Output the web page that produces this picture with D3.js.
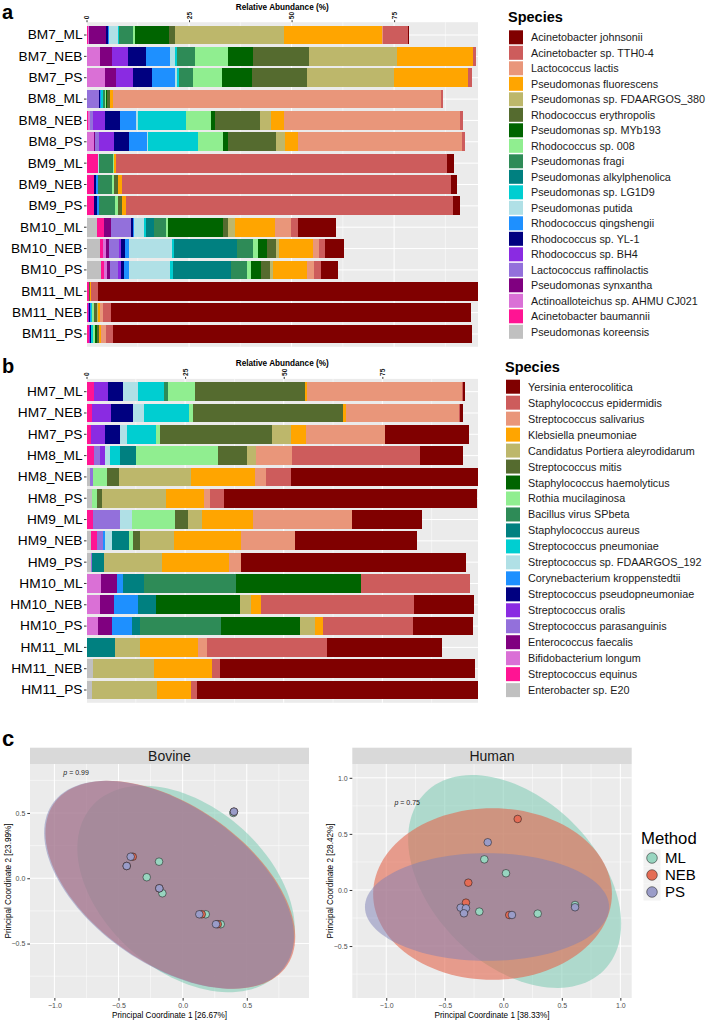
<!DOCTYPE html>
<html>
<head>
<meta charset="utf-8">
<script src="https://cdn.jsdelivr.net/npm/d3@7"></script>
<style>
body { margin: 0; background: #fff; }
text { font-family: "Liberation Sans", Arial, sans-serif; }
</style>
</head>
<body>
<div id="chartbox"></div>
<script>
const width = 708, height = 1020;

// colours shared by both bar panels (legend order)
const palette = ['#800000', '#CD5C5C', '#E9967A', '#FFA500', '#BDB76B', '#556B2F', '#006400',
  '#90EE90', '#2E8B57', '#008080', '#00CED1', '#B0E0E6', '#1E90FF', '#000080', '#8A2BE2',
  '#9370DB', '#800080', '#DA70D6', '#FF1493', '#C0C0C0'];

const bovineSpecies = ['Acinetobacter johnsonii', 'Acinetobacter sp. TTH0-4', 'Lactococcus lactis',
  'Pseudomonas fluorescens', 'Pseudomonas sp. FDAARGOS_380', 'Rhodococcus erythropolis',
  'Pseudomonas sp. MYb193', 'Rhodococcus sp. 008', 'Pseudomonas fragi', 'Pseudomonas alkylphenolica',
  'Pseudomonas sp. LG1D9', 'Pseudomonas putida', 'Rhodococcus qingshengii', 'Rhodococcus sp. YL-1',
  'Rhodococcus sp. BH4', 'Lactococcus raffinolactis', 'Pseudomonas synxantha',
  'Actinoalloteichus sp. AHMU CJ021', 'Acinetobacter baumannii', 'Pseudomonas koreensis'];

const humanSpecies = ['Yersinia enterocolitica', 'Staphylococcus epidermidis', 'Streptococcus salivarius',
  'Klebsiella pneumoniae', 'Candidatus Portiera aleyrodidarum', 'Streptococcus mitis',
  'Staphylococcus haemolyticus', 'Rothia mucilaginosa', 'Bacillus virus SPbeta', 'Staphylococcus aureus',
  'Streptococcus pneumoniae', 'Streptococcus sp. FDAARGOS_192', 'Corynebacterium kroppenstedtii',
  'Streptococcus pseudopneumoniae', 'Streptococcus oralis', 'Streptococcus parasanguinis',
  'Enterococcus faecalis', 'Bifidobacterium longum', 'Streptococcus equinus', 'Enterobacter sp. E20'];

const bovineSamples = ['BM7_ML', 'BM7_NEB', 'BM7_PS', 'BM8_ML', 'BM8_NEB', 'BM8_PS', 'BM9_ML', 'BM9_NEB',
  'BM9_PS', 'BM10_ML', 'BM10_NEB', 'BM10_PS', 'BM11_ML', 'BM11_NEB', 'BM11_PS'];
const humanSamples = ['HM7_ML', 'HM7_NEB', 'HM7_PS', 'HM8_ML', 'HM8_NEB', 'HM8_PS', 'HM9_ML', 'HM9_NEB',
  'HM9_PS', 'HM10_ML', 'HM10_NEB', 'HM10_PS', 'HM11_ML', 'HM11_NEB', 'HM11_PS'];

// relative abundance (%), one value per species in legend order
const BM7_ML   = [0.25, 6.1, 0.4, 23.7, 26.6, 1.45, 8.3, 0.65, 3.25, 0, 0.3, 2.1, 0.35, 0.45, 0, 0, 4.1, 0.4, 0.3, 0];
const BM7_NEB  = [0, 0.75, 0, 18.5, 21.5, 13.6, 6.0, 8.2, 4.3, 0, 0.5, 1.1, 5.85, 4.6, 3.9, 0, 2.9, 3.2, 0, 0];
const BM7_PS   = [0, 0.9, 0, 18.2, 21.0, 13.6, 7.1, 7.3, 3.4, 0, 0.4, 0.5, 5.5, 4.6, 4.15, 0, 2.7, 4.6, 0, 0];
const BM8_ML   = [0, 0.3, 80.0, 0.8, 0, 0.6, 0.3, 0.4, 0.3, 0, 0.5, 0, 0.3, 0.3, 0, 3.0, 0, 0, 0, 0];
const BM8_NEB  = [0, 0.9, 42.8, 3.25, 2.6, 11.0, 0.9, 6.2, 0, 0, 11.8, 0.3, 4.05, 3.6, 2.9, 0.8, 0, 0.5, 0.3, 0];
const BM8_PS   = [0, 0.75, 40.0, 3.0, 2.4, 11.6, 1.1, 6.2, 0, 0, 12.2, 0.3, 4.4, 3.6, 3.65, 1.0, 0.25, 1.8, 0, 0];
const BM9_ML   = [1.6, 80.6, 0, 0.5, 0, 0.2, 0, 0.2, 3.25, 0, 0, 0.3, 0, 0, 0, 0, 0, 0, 2.85, 0];
const BM9_NEB  = [1.6, 80.2, 0, 0.8, 0.2, 0.8, 0, 0.5, 3.6, 0, 0, 0, 0.4, 0.5, 0, 0, 0, 0, 1.8, 0];
const BM9_PS   = [1.6, 79.8, 0, 1.0, 0, 1.0, 0, 0.65, 3.9, 0, 0, 0, 0.55, 0.55, 0, 0, 0, 0, 1.95, 0];
const BM10_ML  = [9.3, 1.8, 3.9, 9.6, 1.8, 1.2, 13.3, 0.5, 3.1, 1.95, 0.3, 2.45, 0.4, 0.4, 0, 4.9, 1.6, 0, 1.9, 2.45];
const BM10_NEB = [4.55, 1.55, 1.3, 8.45, 0.65, 2.3, 2.2, 1.2, 3.9, 15.2, 0.55, 10.55, 1.0, 0.8, 0.65, 2.3, 0.8, 0.65, 0.8, 3.3];
const BM10_PS  = [4.25, 1.6, 1.7, 8.4, 0.65, 2.2, 2.35, 1.15, 3.9, 14.15, 0.65, 10.1, 1.0, 0.8, 0.65, 2.1, 0.8, 0.7, 0.7, 3.5];
const BM11_ML  = [92.7, 1.6, 0, 0.3, 0, 0.3, 0, 0, 0, 0, 0, 0, 0, 0, 0, 0, 0, 0, 0.55, 0];
const BM11_NEB = [87.9, 1.8, 0.9, 0.3, 0.4, 0.6, 0, 0.5, 0, 0, 0.3, 0, 0.2, 0.3, 0.2, 0, 0, 0, 0.4, 0];
const BM11_PS  = [87.7, 1.6, 1.3, 0.3, 0, 0.7, 0.3, 0.5, 0, 0, 0.6, 0, 0, 0.2, 0.3, 0, 0, 0, 0.55, 0];

const HM7_ML   = [0.5, 0.2, 39.3, 0.4, 0, 27.9, 0, 6.8, 1.1, 0, 6.7, 3.8, 0, 3.8, 3.4, 0, 0, 0, 1.95, 0];
const HM7_NEB  = [0.6, 0.25, 28.8, 0.75, 0, 37.9, 0, 1.0, 0, 0, 11.4, 2.95, 0, 5.65, 4.75, 0, 0, 0, 1.35, 0];
const HM7_PS   = [21.2, 0, 19.9, 3.8, 4.9, 28.5, 0, 0.85, 0, 0, 7.35, 1.95, 0, 3.8, 3.4, 0, 0, 0, 1.2, 0];
const HM8_ML   = [10.9, 32.4, 9.15, 0, 2.35, 7.35, 0, 20.7, 0, 4.25, 2.55, 1.2, 0, 0, 1.35, 1.35, 0, 0, 1.95, 0];
const HM8_NEB  = [47.2, 6.5, 2.8, 16.05, 18.35, 3.0, 0, 3.6, 0, 0, 0, 0, 0, 0, 0, 0.7, 0, 0, 0, 0.95];
const HM8_PS   = [64.3, 3.55, 1.5, 9.65, 16.1, 1.25, 0, 1.45, 0, 0, 0, 0, 0, 0, 0, 0, 0, 0, 0, 1.3];
const HM9_ML   = [17.85, 0, 25.1, 13.0, 3.4, 3.45, 0, 10.75, 0, 0, 0, 3.05, 0, 0, 0, 6.95, 0, 0, 1.6, 0];
const HM9_NEB  = [31.0, 0, 13.7, 16.9, 8.7, 1.7, 0, 1.0, 0, 4.25, 0, 1.7, 0.5, 0, 0, 1.6, 0, 0, 1.6, 1.1];
const HM9_PS   = [57.0, 0, 3.0, 17.0, 14.7, 0, 0, 0, 0, 2.9, 0, 0, 0, 0, 0, 0.3, 0, 0, 0, 1.2];
const HM10_ML  = [0, 27.4, 0, 0, 0, 0, 31.9, 0, 23.1, 5.35, 0, 0, 1.5, 0, 0, 0, 4.05, 3.8, 0, 0];
const HM10_NEB = [15.15, 39.0, 0, 2.35, 2.95, 0, 21.15, 0, 0, 4.75, 0, 0, 6.0, 0, 0, 0, 3.65, 3.3, 0, 0];
const HM10_PS  = [15.25, 22.85, 0, 2.05, 3.9, 0, 20.05, 0, 20.4, 2.1, 0, 0, 5.15, 0, 0, 0, 3.45, 2.9, 0, 0];
const HM11_ML  = [29.2, 30.45, 2.3, 14.65, 6.5, 0, 0, 0, 0, 7.1, 0, 0, 0, 0, 0, 0, 0, 0, 0, 0];
const HM11_NEB = [64.6, 2.0, 0, 14.9, 15.4, 0, 0, 0, 0, 0, 0, 0, 0, 0, 0, 0, 0, 0, 0, 1.6];
const HM11_PS  = [71.25, 1.6, 0, 8.45, 16.6, 0, 0, 0, 0, 0, 0, 0, 0, 0, 0, 0, 0, 0, 0, 1.35];

const bovineRows = [BM7_ML, BM7_NEB, BM7_PS, BM8_ML, BM8_NEB, BM8_PS, BM9_ML, BM9_NEB, BM9_PS,
  BM10_ML, BM10_NEB, BM10_PS, BM11_ML, BM11_NEB, BM11_PS];
const humanRows = [HM7_ML, HM7_NEB, HM7_PS, HM8_ML, HM8_NEB, HM8_PS, HM9_ML, HM9_NEB, HM9_PS,
  HM10_ML, HM10_NEB, HM10_PS, HM11_ML, HM11_NEB, HM11_PS];
const abundanceTicks = [0, 25, 50, 75];

// PCoA coordinates [PC1, PC2] per method
const methods = ['ML', 'NEB', 'PS'];
const methodColors = ['#98D5C0', '#E46C55', '#9A9CC8'];
const ellipseColors = ['#7CCBB2', '#E2654D', '#7E7FB5'];
const ellipseOpacity = [0.55, 0.6, 0.5];
const bovineML  = [[0.395, 0.50], [-0.184, 0.127], [-0.280, 0.008], [-0.158, -0.115], [0.180, -0.276], [0.297, -0.352]];
const bovineNEB = [[0.40, 0.51], [-0.389, 0.165], [-0.436, 0.094], [-0.182, -0.077], [0.149, -0.276], [0.274, -0.352]];
const bovinePS  = [[0.40, 0.51], [-0.405, 0.165], [-0.436, 0.094], [-0.182, -0.077], [0.130, -0.276], [0.260, -0.352]];
const humanML   = [[-0.162, 0.273], [0.023, 0.149], [-0.205, -0.193], [0.294, -0.211], [0.613, -0.134]];
const humanNEB  = [[0.123, 0.633], [-0.299, 0.065], [-0.319, -0.113], [-0.336, -0.202], [0.051, -0.223]];
const humanPS   = [[-0.133, 0.425], [-0.364, -0.158], [-0.319, -0.163], [-0.336, -0.208], [0.074, -0.223], [0.613, -0.154]];
// 95% ellipses: centre, semi axes, rotation (deg), in PCoA units
const bovineEllipses = [
  {cx: 0.027, cy: -0.082, a: 0.97, b: 0.635, angle: -40},
  {cx: -0.096, cy: -0.05, a: 1.10, b: 0.61, angle: -34},
  {cx: -0.106, cy: -0.05, a: 1.10, b: 0.61, angle: -34}];
const humanEllipses = [
  {cx: 0.097, cy: 0.076, a: 1.10, b: 0.72, angle: -48},
  {cx: -0.092, cy: -0.036, a: 1.02, b: 0.765, angle: 0},
  {cx: -0.139, cy: -0.152, a: 1.043, b: 0.48, angle: 0}];

var svg = d3.select('#chartbox').append('svg').attr('width', width).attr('height', height);

function drawBars(cfg) {
  var g = svg.append('g');
  var keys = cfg.species.map((s, i) => i);
  var table = cfg.samples.map((name, r) => {
    var o = {sample: name};
    cfg.rows[r].forEach((v, i) => o[i] = v);
    return o;
  });
  var x = d3.scaleLinear().domain([0, d3.max(cfg.rows, r => d3.sum(r))]).range([cfg.left, cfg.right]);
  var y = d3.scaleBand().domain(cfg.samples).range([cfg.top, cfg.bottom]).paddingInner(0.12).paddingOuter(0.16);
  var color = d3.scaleOrdinal().domain(keys).range(palette);

  g.append('rect').attr('x', cfg.left).attr('y', cfg.top).attr('width', cfg.right - cfg.left)
    .attr('height', cfg.bottom - cfg.top).attr('fill', '#EBEBEB');
  // grid
  abundanceTicks.map(t => t + 12.5).filter(t => t < x.domain()[1]).forEach(t => {
    g.append('line').attr('x1', x(t)).attr('x2', x(t)).attr('y1', cfg.top).attr('y2', cfg.bottom)
      .attr('stroke', '#fff').attr('stroke-width', 0.5);
  });
  abundanceTicks.forEach(t => {
    g.append('line').attr('x1', x(t)).attr('x2', x(t)).attr('y1', cfg.top).attr('y2', cfg.bottom)
      .attr('stroke', '#fff').attr('stroke-width', 1);
  });
  cfg.samples.forEach(s => {
    var yc = y(s) + y.bandwidth() / 2;
    g.append('line').attr('x1', cfg.left).attr('x2', cfg.right).attr('y1', yc).attr('y2', yc)
      .attr('stroke', '#fff').attr('stroke-width', 1);
  });

  var series = d3.stack().keys(keys.slice().reverse())(table);
  g.selectAll('g.layer').data(series).join('g').attr('class', 'layer')
    .attr('fill', d => color(d.key))
    .selectAll('rect').data(d => d).join('rect')
    .attr('shape-rendering', 'crispEdges')
    .attr('x', d => x(d[0]))
    .attr('width', d => Math.max(0, x(d[1]) - x(d[0])))
    .attr('y', d => y(d.data.sample))
    .attr('height', y.bandwidth());

  // axes
  var ya = g.append('g').attr('transform', 'translate(' + cfg.left + ',0)').call(d3.axisLeft(y).tickSize(2.5).tickPadding(1.5));
  ya.select('.domain').remove();
  ya.selectAll('line').attr('stroke', '#333');
  ya.selectAll('text').attr('font-size', 13.7).attr('fill', '#000').style('font-family', '"Liberation Sans", Arial, sans-serif');

  var xa = g.append('g').attr('transform', 'translate(0,' + cfg.top + ')').call(d3.axisTop(x).tickValues(abundanceTicks).tickSize(2));
  xa.select('.domain').remove();
  xa.selectAll('line').attr('stroke', '#333');
  xa.selectAll('text').attr('transform', 'rotate(-90)').attr('x', 3).attr('y', 0).attr('dy', '0.35em')
    .attr('text-anchor', 'start').attr('font-size', 6.5).attr('font-weight', 'bold').attr('fill', '#1a1a1a')
    .style('font-family', '"Liberation Sans", Arial, sans-serif');

  g.append('text').attr('x', (cfg.left + cfg.right) / 2).attr('y', cfg.top - 12.5).attr('text-anchor', 'middle')
    .attr('font-size', 8.2).attr('font-weight', 'bold').text('Relative Abundance (%)');
  g.append('text').attr('x', 2).attr('y', cfg.labelY).attr('font-size', 20).attr('font-weight', 'bold').text(cfg.label);

  // legend
  g.append('text').attr('x', cfg.legendX).attr('y', cfg.legendTop - 15).attr('font-size', 14.5)
    .attr('font-weight', 'bold').text('Species');
  cfg.species.forEach((s, i) => {
    var yy = cfg.legendTop + i * cfg.legendStep;
    g.append('rect').attr('x', cfg.legendX + 1).attr('y', yy - 7).attr('width', 14).attr('height', 14).attr('fill', palette[i]);
    g.append('text').attr('x', cfg.legendX + 23).attr('y', yy + 4).attr('font-size', 10.8).attr('fill', '#1a1a1a').text(s);
  });
}

drawBars({species: bovineSpecies, samples: bovineSamples, rows: bovineRows, left: 86.5, right: 478,
  top: 22.2, bottom: 346.8, label: 'a', labelY: 18.5, legendX: 508, legendTop: 37.3, legendStep: 15.5});
drawBars({species: humanSpecies, samples: humanSamples, rows: humanRows, left: 86.5, right: 478,
  top: 378.9, bottom: 702.8, label: 'b', labelY: 373, legendX: 505, legendTop: 386.7, legendStep: 15.97});

function drawPcoa(cfg) {
  var g = svg.append('g');
  var x = d3.scaleLinear().domain(cfg.xDomain).range([cfg.left, cfg.right]);
  var y = d3.scaleLinear().domain(cfg.yDomain).range([cfg.bottom, cfg.top]);
  var clipId = 'clip-' + cfg.title;
  g.append('clipPath').attr('id', clipId).append('rect').attr('x', cfg.left).attr('y', cfg.top)
    .attr('width', cfg.right - cfg.left).attr('height', cfg.bottom - cfg.top);

  // strip
  g.append('rect').attr('x', cfg.left).attr('y', cfg.top - 16.3).attr('width', cfg.right - cfg.left)
    .attr('height', 16.3).attr('fill', '#D9D9D9');
  g.append('text').attr('x', (cfg.left + cfg.right) / 2).attr('y', cfg.top - 3.3).attr('text-anchor', 'middle')
    .attr('font-size', 14).attr('fill', '#1a1a1a').text(cfg.title);

  g.append('rect').attr('x', cfg.left).attr('y', cfg.top).attr('width', cfg.right - cfg.left)
    .attr('height', cfg.bottom - cfg.top).attr('fill', '#EBEBEB');
  var grid = g.append('g');
  cfg.xTicks.slice(1).map((t, i) => (t + cfg.xTicks[i]) / 2).concat([cfg.xTicks[cfg.xTicks.length - 1] + 0.25, cfg.xTicks[0] - 0.25])
    .filter(t => t > cfg.xDomain[0] && t < cfg.xDomain[1]).forEach(t => {
      grid.append('line').attr('x1', x(t)).attr('x2', x(t)).attr('y1', cfg.top).attr('y2', cfg.bottom).attr('stroke', '#fff').attr('stroke-width', 0.5);
    });
  cfg.yTicks.slice(1).map((t, i) => (t + cfg.yTicks[i]) / 2).concat([cfg.yTicks[cfg.yTicks.length - 1] + 0.25, cfg.yTicks[0] - 0.25])
    .filter(t => t > cfg.yDomain[0] && t < cfg.yDomain[1]).forEach(t => {
      grid.append('line').attr('y1', y(t)).attr('y2', y(t)).attr('x1', cfg.left).attr('x2', cfg.right).attr('stroke', '#fff').attr('stroke-width', 0.5);
    });
  cfg.xTicks.forEach(t => {
    grid.append('line').attr('x1', x(t)).attr('x2', x(t)).attr('y1', cfg.top).attr('y2', cfg.bottom).attr('stroke', '#fff').attr('stroke-width', 1);
  });
  cfg.yTicks.forEach(t => {
    grid.append('line').attr('y1', y(t)).attr('y2', y(t)).attr('x1', cfg.left).attr('x2', cfg.right).attr('stroke', '#fff').attr('stroke-width', 1);
  });

  var line = d3.line().curve(d3.curveLinearClosed);
  var plot = g.append('g').attr('clip-path', 'url(#' + clipId + ')');
  cfg.ellipses.forEach((e, k) => {
    var th = e.angle * Math.PI / 180;
    var pts = d3.range(0, 360, 3).map(deg => {
      var t = deg * Math.PI / 180;
      var ex = e.a * Math.cos(t), ey = e.b * Math.sin(t);
      return [x(e.cx + ex * Math.cos(th) - ey * Math.sin(th)), y(e.cy + ex * Math.sin(th) + ey * Math.cos(th))];
    });
    plot.append('path').attr('d', line(pts)).attr('fill', ellipseColors[k]).attr('fill-opacity', ellipseOpacity[k]);
  });
  cfg.points.forEach((pts, k) => {
    plot.selectAll(null).data(pts).join('circle')
      .attr('cx', d => x(d[0])).attr('cy', d => y(d[1])).attr('r', 3.8)
      .attr('fill', methodColors[k]).attr('stroke', '#111').attr('stroke-width', 0.5);
  });

  var xa = g.append('g').attr('transform', 'translate(0,' + cfg.bottom + ')')
    .call(d3.axisBottom(x).tickValues(cfg.xTicks).tickFormat(d3.format('.1f')).tickSize(2.7).tickPadding(2));
  var ya = g.append('g').attr('transform', 'translate(' + cfg.left + ',0)')
    .call(d3.axisLeft(y).tickValues(cfg.yTicks).tickFormat(d3.format('.1f')).tickSize(2.7).tickPadding(2));
  [xa, ya].forEach(a => {
    a.select('.domain').remove();
    a.selectAll('line').attr('stroke', '#333');
    a.selectAll('text').attr('font-size', 7).attr('fill', '#4D4D4D').style('font-family', '"Liberation Sans", Arial, sans-serif');
  });

  g.append('text').attr('x', (cfg.left + cfg.right) / 2).attr('y', cfg.bottom + 20).attr('text-anchor', 'middle')
    .attr('font-size', 8.2).attr('fill', '#000').text(cfg.xTitle);
  g.append('text').attr('transform', 'translate(' + (cfg.left - 19) + ',' + (cfg.top + cfg.bottom) / 2 + ') rotate(-90)')
    .attr('text-anchor', 'middle').attr('font-size', 8.2).attr('fill', '#000').text(cfg.yTitle);

  var pt = g.append('text').attr('x', x(cfg.pPos[0])).attr('y', y(cfg.pPos[1])).attr('font-size', 7).attr('fill', '#1a1a1a');
  pt.append('tspan').attr('font-style', 'italic').text('p');
  pt.append('tspan').text(' = ' + cfg.pValue);
}

drawPcoa({title: 'Bovine', left: 30, right: 309, top: 764, bottom: 998,
  xDomain: [-1.19, 0.985], yDomain: [-0.917, 0.875], xTicks: [-1.0, -0.5, 0.0, 0.5], yTicks: [-0.5, 0.0, 0.5],
  ellipses: bovineEllipses, points: [bovineML, bovineNEB, bovinePS],
  xTitle: 'Principal Coordinate 1 [26.67%]', yTitle: 'Principal Coordinate 2 [23.99%]',
  pValue: '0.99', pPos: [-0.93, 0.79]});
drawPcoa({title: 'Human', left: 352.3, right: 631.7, top: 764, bottom: 998,
  xDomain: [-1.29, 1.097], yDomain: [-0.963, 1.123], xTicks: [-1.0, -0.5, 0.0, 0.5, 1.0], yTicks: [-0.5, 0.0, 0.5, 1.0],
  ellipses: humanEllipses, points: [humanML, humanNEB, humanPS],
  xTitle: 'Principal Coordinate 1 [38.33%]', yTitle: 'Principal Coordinate 2 [28.42%]',
  pValue: '0.75', pPos: [-0.93, 0.76]});

svg.append('text').attr('x', 2).attr('y', 746).attr('font-size', 22).attr('font-weight', 'bold').text('c');

// method legend
var leg = svg.append('g');
leg.append('text').attr('x', 641).attr('y', 844).attr('font-size', 16.7).attr('fill', '#000').text('Method');
methods.forEach((m, i) => {
  var yy = 858 + i * 17;
  leg.append('rect').attr('x', 643.5).attr('y', yy - 8.5).attr('width', 17).attr('height', 17).attr('fill', '#F2F2F2');
  leg.append('circle').attr('cx', 652).attr('cy', yy).attr('r', 5.3).attr('fill', methodColors[i])
    .attr('stroke', '#111').attr('stroke-width', 0.5);
  leg.append('text').attr('x', 665).attr('y', yy + 5.3).attr('font-size', 15).attr('fill', '#000').text(m);
});
</script>
</body>
</html>
